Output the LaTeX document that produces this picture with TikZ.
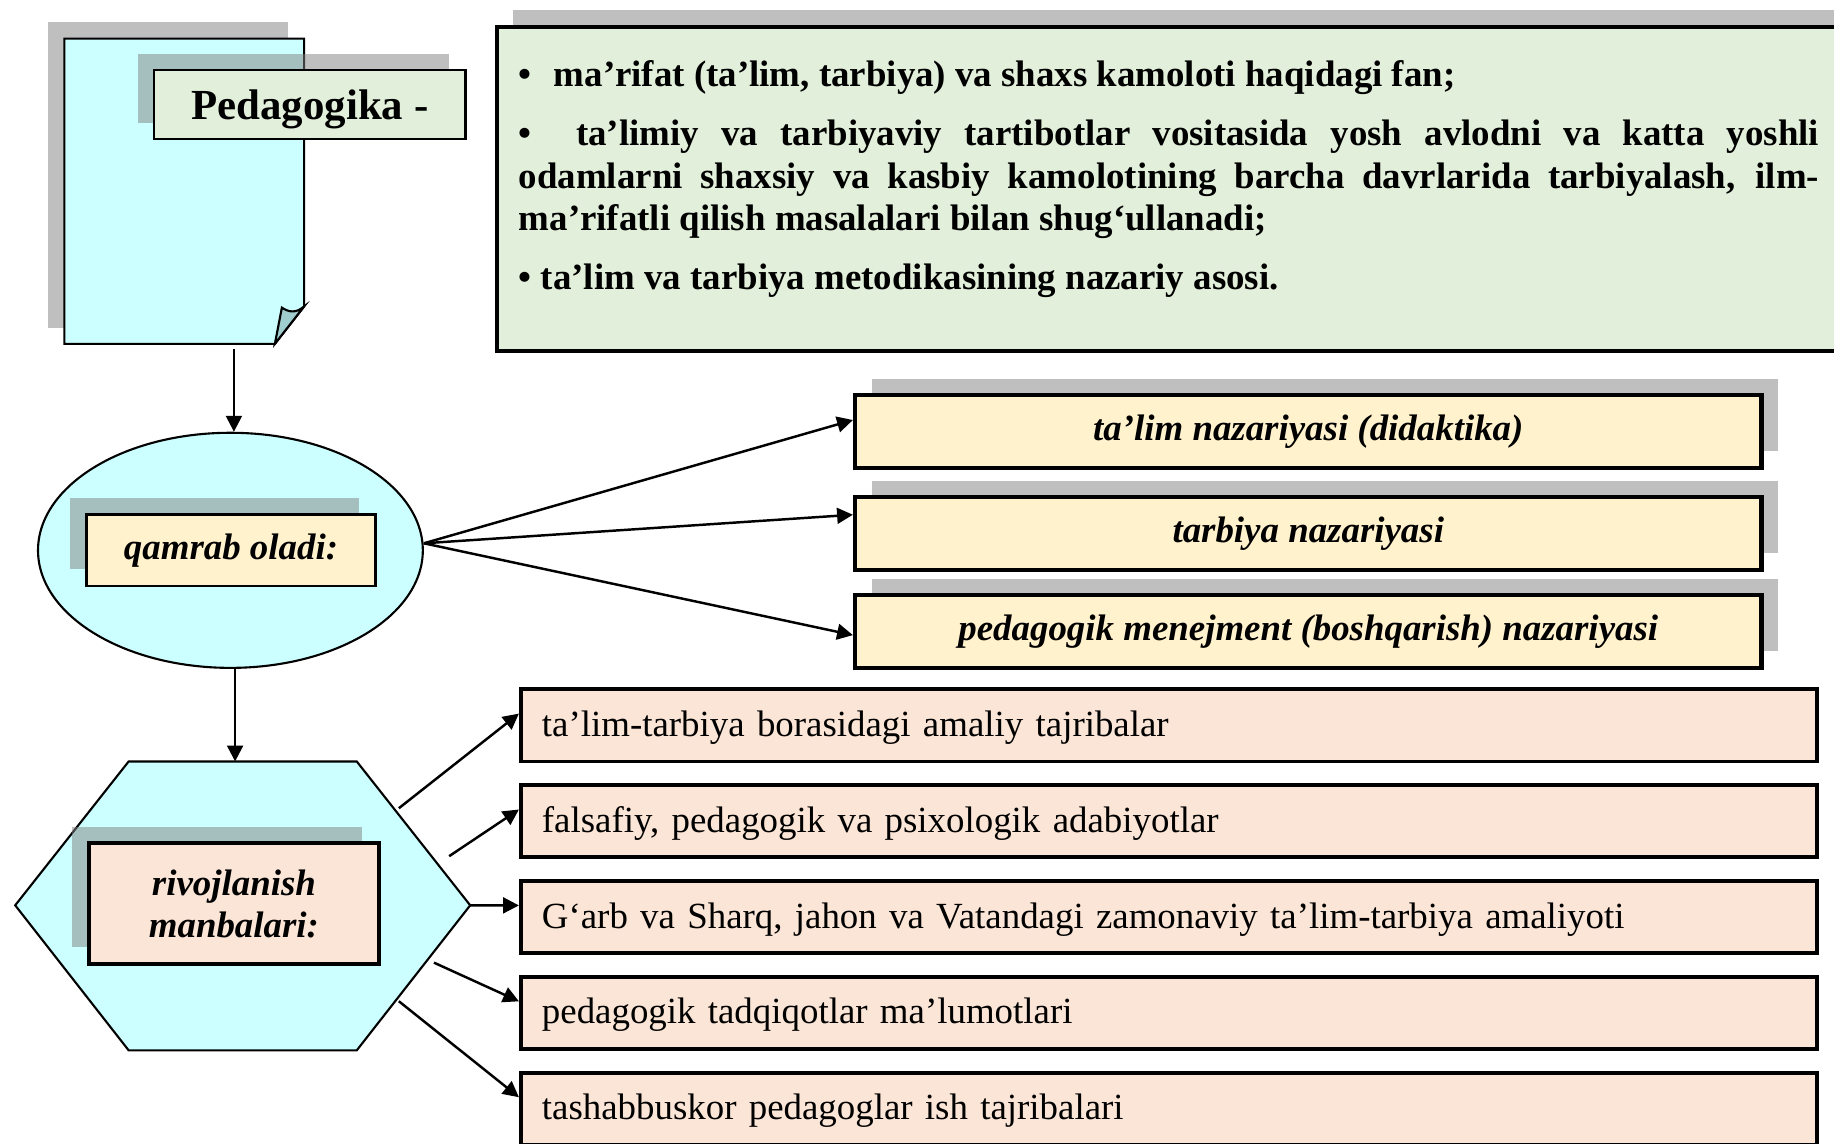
\documentclass[tikz,border=0pt]{standalone}
\usepackage{fontspec}
\setmainfont{Liberation Serif}
\usetikzlibrary{shapes.geometric,arrows.meta,shadows,calc}
\newcommand{\px}{0.0117cm}
\newcommand{\txt}{\fontsize{10.5}{12}\selectfont}
\definecolor{doccyan}{RGB}{204,255,255}
\definecolor{foldteal}{RGB}{160,205,205}
\definecolor{defgreen}{RGB}{226,239,218}
\definecolor{boxyellow}{RGB}{255,242,204}
\definecolor{boxpink}{RGB}{251,229,214}
\tikzset{
  shadowNE/.style={drop shadow={shadow xshift=4.7pt,shadow yshift=4.7pt}},
  shadowNW/.style={drop shadow={shadow xshift=-4.7pt,shadow yshift=4.7pt}},
  ybox/.style={draw,line width=1.2pt,fill=boxyellow,minimum width=775*\px,minimum height=62*\px,font=\txt\bfseries\itshape,shadowNE},
  pbox/.style={draw,line width=1.1pt,fill=boxpink,minimum height=62*\px,text width=12.55cm,inner xsep=6pt,align=left,font=\txt,text depth=1pt},
  arr/.style={-{Triangle[length=4.5pt,width=4.5pt]},line width=0.7pt},
}

\begin{document}
\begin{tikzpicture}[x=\px,y=-\px]
\useasboundingbox (0,0) rectangle (1568,978);
% document sheet
\coordinate (d1) at (55,33);
\coordinate (d2) at (260,33);
\coordinate (d3) at (260,262);
\coordinate (d4) at (235,294);
\coordinate (d5) at (55,294);
\fill[black!50,opacity=.5] (41,19) rectangle (246,280);
\filldraw[fill=doccyan,line width=0.6pt] (d1)--(d2)--(d3)--(d4)--(d5)--cycle;
\filldraw[fill=foldteal,line width=0.6pt] (d3) .. controls (253,268) and (247,267) .. (241,263) -- (d4) -- cycle;
\node[draw,fill=defgreen,line width=0.6pt,minimum width=266*\px,minimum height=59*\px,font=\fontsize{12.2}{14}\selectfont\bfseries,text depth=0pt,shadowNW] (ped) at (265,89.5) {Pedagogika -};
% definition
\node[draw,line width=1.2pt,fill=defgreen,minimum width=1170*\px,minimum height=277*\px,anchor=north west,shadowNE] (def) at (423,21) {};
\node[anchor=base west,inner sep=0,text width=13.01cm,align=justify,font=\txt\bfseries] (deftxt) at (443,74) {\setlength{\parskip}{4.9pt}%
•\hspace{0.6em}ma’rifat (ta’lim, tarbiya) va shaxs kamoloti haqidagi fan;\par
•\ \ ta’limiy va tarbiyaviy tartibotlar vositasida yosh avlodni va katta yoshli\linebreak
odamlarni shaxsiy va kasbiy kamolotining barcha davrlarida tarbiyalash, ilm-\linebreak
ma’rifatli qilish masalalari bilan shug‘ullanadi;\par
• ta’lim va tarbiya metodikasining nazariy asosi.\par};
% qamrab oladi
\node[ellipse,draw,fill=doccyan,line width=0.6pt,minimum width=329*\px,minimum height=201*\px] (ell) at (197,470.5) {};
\node[draw,fill=boxyellow,line width=0.8pt,minimum width=247*\px,minimum height=61*\px,font=\txt\bfseries\itshape,shadowNW] (qam) at (197.5,470.5) {qamrab oladi:};
\coordinate (docb) at (200,298);
\draw[arr] (docb) -- (ell.north -| docb);
\foreach \n/\y/\lbl in {t1/369/{ta’lim nazariyasi (didaktika)},t2/456/{tarbiya nazariyasi},t3/540/{pedagogik menejment (boshqarish) nazariyasi}}
  \node[ybox] (\n) at (1118.5,\y) {\lbl};
\foreach \n/\s in {t1/3.3pt,t2/5.3pt,t3/-1pt}
  \draw[arr] ([yshift=2pt]ell.east) -- ([yshift=\s]\n.west);
% rivojlanish manbalari
\coordinate (h1) at (110,651);
\coordinate (h2) at (305,651);
\coordinate (h3) at (402,774);
\coordinate (h4) at (305,898);
\coordinate (h5) at (110,898);
\coordinate (h6) at (13,774);
\filldraw[fill=doccyan,line width=0.6pt] (h1)--(h2)--(h3)--(h4)--(h5)--(h6)--cycle;
\coordinate (htop) at (201,651);
\draw[arr] (ell.south -| htop) -- (htop);
\node[draw,fill=boxpink,line width=1.2pt,minimum width=248*\px,minimum height=103*\px,align=center,font=\txt\bfseries\itshape,shadowNW] (riv) at (200,772.5) {rivojlanish\\manbalari:};
\foreach \n/\y/\lbl in {p1/620/{ta’lim-tarbiya borasidagi amaliy tajribalar},p2/702/{falsafiy, pedagogik va psixologik adabiyotlar},p3/784/{G‘arb va Sharq, jahon va Vatandagi zamonaviy ta’lim-tarbiya amaliyoti},p4/866/{pedagogik tadqiqotlar ma’lumotlari},p5/948/{tashabbuskor pedagoglar ish tajribalari}}
  \node[pbox] (\n) at (999.5,\y) {\lbl};
\coordinate (s1) at (341,691);
\coordinate (s2) at (384,732);
\coordinate (s3) at (402,774);
\coordinate (s4) at (371,823);
\coordinate (s5) at (341,856);
\foreach \s/\n in {s1/p1,s2/p2,s3/p3,s4/p4,s5/p5}
  \draw[arr] (\s) -- ([yshift=3.3pt]\n.west);
\end{tikzpicture}
\end{document}
